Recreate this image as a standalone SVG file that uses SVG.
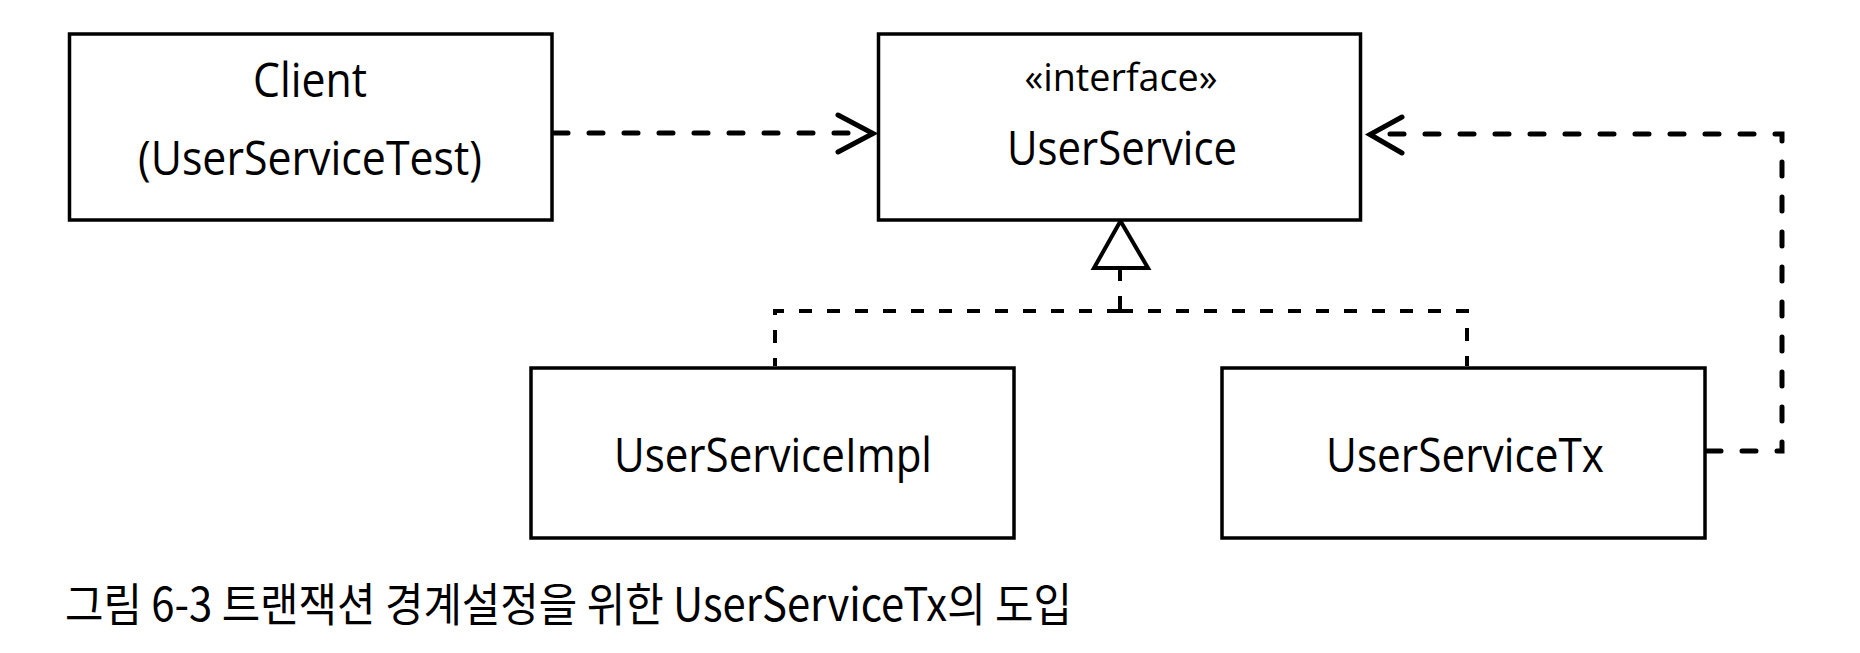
<svg xmlns="http://www.w3.org/2000/svg" width="1860" height="653" viewBox="0 0 1860 653">
  <style>
    .box { fill: #ffffff; stroke: #000000; stroke-width: 3.5; }
    .lbl { font-family: "Open Sans", "Liberation Sans", sans-serif; font-size: 47px; fill: #000000; text-anchor: middle; }
    .stereo { font-family: "Open Sans", "Liberation Sans", sans-serif; font-size: 38px; fill: #000000; text-anchor: middle; }
    .dep { fill: none; stroke: #000000; stroke-width: 5; stroke-dasharray: 14 21; stroke-linecap: round; }
    .real { fill: none; stroke: #000000; stroke-width: 4; stroke-dasharray: 13 15; stroke-linecap: butt; }
    .head { fill: none; stroke: #000000; stroke-width: 5; stroke-linecap: round; stroke-linejoin: miter; }
    .tri { fill: #ffffff; stroke: #000000; stroke-width: 4; stroke-linejoin: miter; }
    .cap { font-family: "Noto Sans CJK KR", "Noto Sans", sans-serif; font-size: 46px; fill: #000000; }
  </style>

  <g id="connectors">
    <!-- Client depends on UserService -->
    <line class="dep" x1="554" y1="133" x2="866" y2="133"/>
    <polyline class="head" points="838,115 873,133.5 838,152"/>
    <!-- UserServiceTx depends on UserService -->
    <path class="dep" d="M1707,451 H1782 V134 H1376"/>
    <polyline class="head" points="1402,117 1370,134.5 1402,153"/>
    <!-- realization -->
    <path class="real" d="M1120,268 V311"/>
    <path class="real" d="M1120,311 H775 V366"/>
    <path class="real" d="M1120,311 H1467 V366"/>
    <polygon class="tri" points="1120.5,221 1094,268 1148,268"/>
  </g>

  <g id="client">
    <rect class="box" x="69.5" y="34" width="482.5" height="186"/>
    <text class="lbl" x="310" y="97" textLength="114" lengthAdjust="spacingAndGlyphs">Client</text>
    <text class="lbl" x="310" y="175" textLength="344" lengthAdjust="spacingAndGlyphs">(UserServiceTest)</text>
  </g>

  <g id="userservice">
    <rect class="box" x="878.5" y="34" width="482" height="186"/>
    <text class="stereo" x="1121" y="91" textLength="193" lengthAdjust="spacingAndGlyphs">«interface»</text>
    <text class="lbl" x="1122" y="165" textLength="230" lengthAdjust="spacingAndGlyphs">UserService</text>
  </g>

  <g id="userserviceimpl">
    <rect class="box" x="531" y="368" width="483" height="170"/>
    <text class="lbl" x="773" y="472" textLength="318" lengthAdjust="spacingAndGlyphs">UserServiceImpl</text>
  </g>

  <g id="userservicetx">
    <rect class="box" x="1222" y="368" width="483" height="170"/>
    <text class="lbl" x="1465" y="472" textLength="278" lengthAdjust="spacingAndGlyphs">UserServiceTx</text>
  </g>

  <text class="cap" x="65" y="621" textLength="1007" lengthAdjust="spacingAndGlyphs">그림 6-3 트랜잭션 경계설정을 위한 UserServiceTx의 도입</text>
</svg>
